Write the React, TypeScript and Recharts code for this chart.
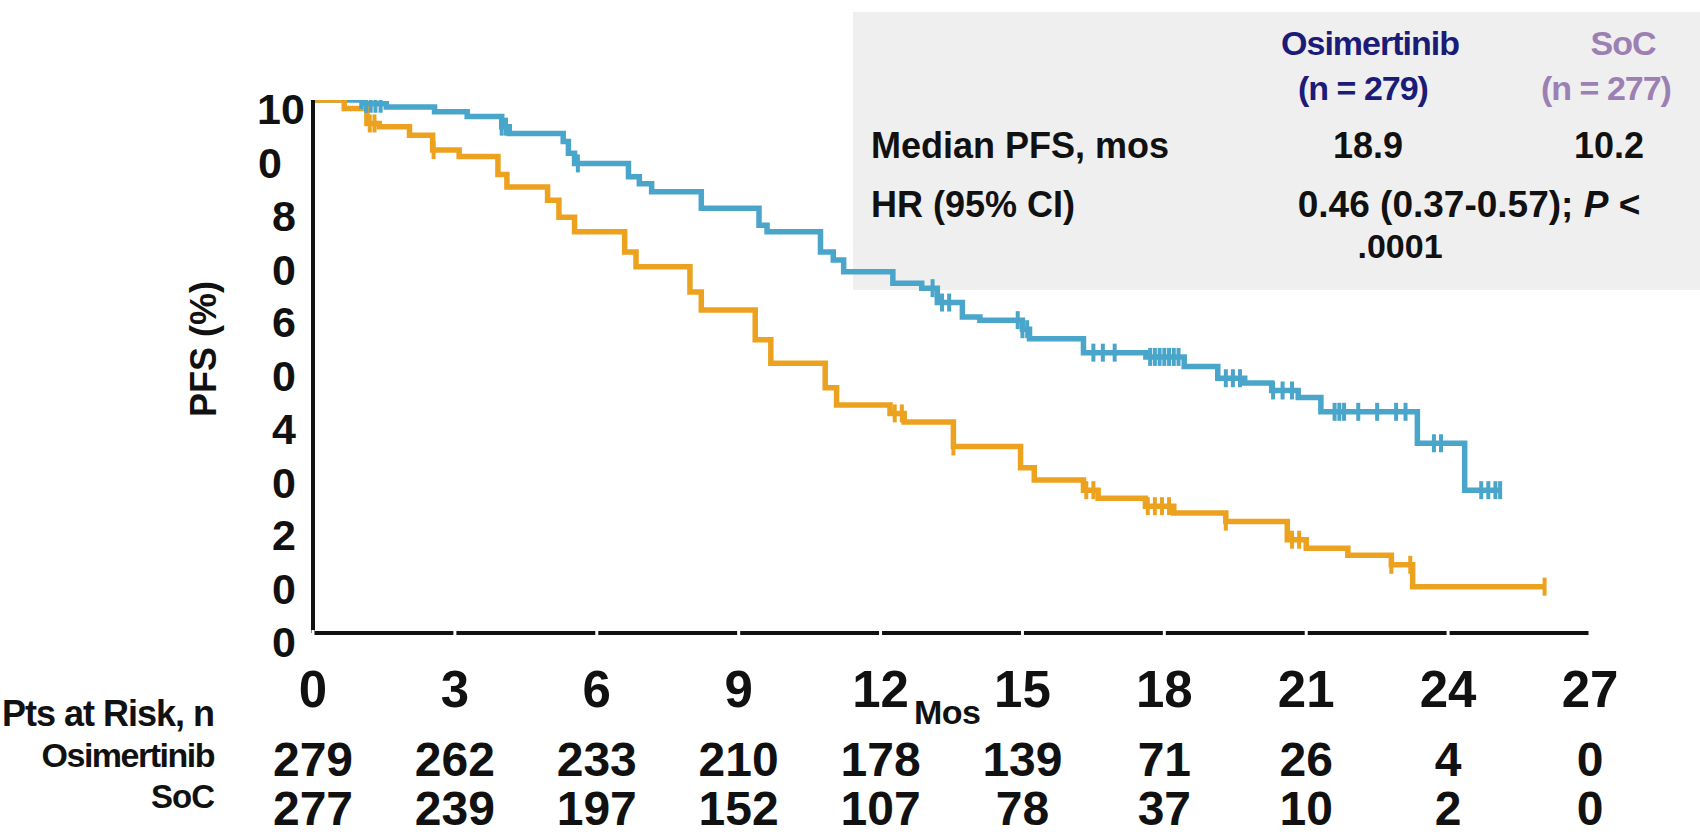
import React from "react";
import { ComposedChart, Line, Scatter, XAxis, YAxis } from "recharts";

// x axis / at-risk table
const monthTicks = [0, 3, 6, 9, 12, 15, 18, 21, 24, 27];
const pfsTicks = [0, 20, 40, 60, 80, 100];
const atRiskOsi = [279, 262, 233, 210, 178, 139, 71, 26, 4, 0];
const atRiskSoc = [277, 239, 197, 152, 107, 78, 37, 10, 2, 0];

// KM steps (months, % PFS)
const osiTimes = [0, 1.1, 1.55, 2.57, 3.26, 3.99, 4.15, 5.29, 5.4, 5.53, 6.67, 6.9, 7.16, 8.21, 9.43, 9.6, 10.73, 11.0, 11.22, 12.26, 12.87, 13.2, 13.73, 14.1, 15.0, 15.15, 16.29, 17.61, 18.42, 19.13, 19.7, 20.27, 20.83, 21.31, 23.35, 24.35, 25.1];
const osiSurv = [100, 99.3, 98.7, 97.8, 96.9, 95.0, 93.7, 92.2, 90.0, 88.1, 85.6, 84.3, 82.8, 79.7, 76.5, 75.3, 71.5, 70.0, 67.8, 65.6, 64.7, 62.0, 59.3, 58.7, 57.0, 55.2, 52.6, 51.8, 50.0, 47.8, 46.9, 45.5, 44.2, 41.5, 35.6, 26.8, 26.8];
const socTimes = [0, 0.66, 1.14, 1.4, 2.04, 2.53, 3.09, 3.91, 4.1, 4.96, 5.2, 5.53, 6.59, 6.83, 7.97, 8.21, 9.35, 9.68, 10.83, 11.07, 12.2, 12.5, 13.54, 14.96, 15.25, 16.29, 16.6, 17.6, 18.2, 19.3, 20.6, 21.0, 21.88, 22.8, 23.25, 26.04];
const socSurv = [100, 98.4, 95.6, 95.0, 93.4, 90.6, 89.4, 86.0, 83.7, 81.2, 78.0, 75.3, 71.5, 68.7, 64.0, 60.6, 55.0, 50.6, 46.0, 42.8, 41.2, 39.6, 35.0, 31.0, 28.7, 26.8, 25.3, 23.8, 22.5, 20.9, 17.5, 15.9, 14.6, 12.8, 8.7, 8.7];

// censoring times (months)
const osiCensor = [1.02, 1.12, 1.22, 1.32, 1.43, 3.99, 4.08, 5.6, 13.1, 13.3, 13.45, 14.9, 15.0, 15.1, 16.5, 16.7, 16.95, 17.7, 17.8, 17.9, 18.0, 18.1, 18.2, 18.3, 19.3, 19.45, 19.6, 20.3, 20.5, 20.7, 21.6, 21.7, 21.8, 22.1, 22.5, 22.9, 23.1, 23.7, 23.85, 24.7, 24.85, 25.0, 25.1];
const socCensor = [1.2, 1.3, 2.55, 12.3, 12.45, 13.54, 16.35, 16.5, 17.65, 17.8, 17.95, 18.1, 19.3, 20.7, 20.85, 22.8, 23.2, 26.04];

const BLUE = "#4aa5ca";
const ORANGE = "#eca21f";
const INK = "#111";
const FONT = "'Liberation Sans', Arial, Helvetica, sans-serif";

const PLOT_TOP = 100;
const PLOT_BOTTOM = 633;
const PLOT_LEFT = 313;
const PLOT_RIGHT = 1590;

const toSteps = (t: number[], s: number[]) => t.map((m, i) => ({ t: m, s: s[i] }));
const survAt = (t: number[], s: number[], m: number) => {
  let v = s[0];
  t.forEach((x, i) => {
    if (x <= m) v = s[i];
  });
  return v;
};
const toCensor = (c: number[], t: number[], s: number[]) => c.map((m) => ({ t: m, s: survAt(t, s, m) }));

const osiData = toSteps(osiTimes, osiSurv);
const socData = toSteps(socTimes, socSurv);
const osiMarks = toCensor(osiCensor, osiTimes, osiSurv);
const socMarks = toCensor(socCensor, socTimes, socSurv);

const censorShape = (color: string) => (p: any) => (
  <line x1={p.cx} x2={p.cx} y1={p.cy - 9} y2={p.cy + 9} stroke={color} strokeWidth={4} />
);

const txt = { fontFamily: FONT, fontWeight: 700, fill: INK } as const;

// the original labels "100", "80"... are wrapped onto two lines
function YTick(props: any) {
  const v = props.payload.value;
  const y = props.y;
  if (v === 0) {
    return (
      <text x={284} y={y + 24} textAnchor="middle" fontSize={43} {...txt}>
        0
      </text>
    );
  }
  const top = v === 100;
  return (
    <g>
      <text x={top ? 281 : 284} y={y + 24} textAnchor="middle" fontSize={43} {...txt}>
        {String(v / 10)}
      </text>
      <text x={top ? 270 : 284} y={y + 78} textAnchor="middle" fontSize={43} {...txt}>
        0
      </text>
    </g>
  );
}

function XTick(props: any) {
  const x = props.x;
  const i = props.index;
  return (
    <g>
      <rect x={x - 1.5} y={PLOT_BOTTOM - 3} width={3} height={6} fill="#fff" />
      <text x={x} y={707} textAnchor="middle" fontSize={51} {...txt}>
        {props.payload.value}
      </text>
      <text x={x} y={776} textAnchor="middle" fontSize={48} {...txt}>
        {atRiskOsi[i]}
      </text>
      <text x={x} y={825} textAnchor="middle" fontSize={48} {...txt}>
        {atRiskSoc[i]}
      </text>
    </g>
  );
}

function XLabels() {
  return (
    <g>
      <text x={914} y={724} fontSize={34} letterSpacing={-0.5} {...txt}>
        Mos
      </text>
      <text x={214} y={726} textAnchor="end" fontSize={36} letterSpacing={-1} {...txt}>
        Pts at Risk, n
      </text>
      <text x={214} y={767} textAnchor="end" fontSize={34} letterSpacing={-1.5} {...txt}>
        Osimertinib
      </text>
      <text x={214} y={808} textAnchor="end" fontSize={33} letterSpacing={-1} {...txt}>
        SoC
      </text>
    </g>
  );
}

function YLabel() {
  return (
    <text x={0} y={0} transform="translate(216 349) rotate(-90)" textAnchor="middle" fontSize={36} {...txt}>
      PFS (%)
    </text>
  );
}

function StatsBox() {
  const b = { fontFamily: FONT, fontWeight: 700 } as const;
  const purple = "#9c80b4";
  const navy = "#1b1b78";
  return (
    <svg width={1700} height={837} style={{ position: "absolute", left: 0, top: 0 }}>
      <rect x={853} y={12} width={847} height={278} fill="#efefef" />
      <text x={1370} y={55} textAnchor="middle" fontSize={34} fill={navy} letterSpacing={-1} {...b}>
        Osimertinib
      </text>
      <text x={1363} y={100} textAnchor="middle" fontSize={34} fill={navy} letterSpacing={-1} {...b}>
        (n = 279)
      </text>
      <text x={1623} y={55} textAnchor="middle" fontSize={34} fill={purple} letterSpacing={-1} {...b}>
        SoC
      </text>
      <text x={1606} y={100} textAnchor="middle" fontSize={34} fill={purple} letterSpacing={-1} {...b}>
        (n = 277)
      </text>
      <text x={871} y={158} fontSize={36} fill={INK} {...b}>
        Median PFS, mos
      </text>
      <text x={1368} y={158} textAnchor="middle" fontSize={36} fill={INK} {...b}>
        18.9
      </text>
      <text x={1609} y={158} textAnchor="middle" fontSize={36} fill={INK} {...b}>
        10.2
      </text>
      <text x={871} y={217} fontSize={36} fill={INK} {...b}>
        HR (95% CI)
      </text>
      <text x={1469} y={217} textAnchor="middle" fontSize={37} fill={INK} {...b}>
        0.46 (0.37-0.57); <tspan fontStyle="italic">P</tspan> {"<"}
      </text>
      <text x={1400} y={258} textAnchor="middle" fontSize={34} fill={INK} {...b}>
        .0001
      </text>
    </svg>
  );
}

export default function App() {
  return (
    <div style={{ position: "absolute", left: 0, top: 0, width: 1700, height: 837, background: "#fff" }}>
      <StatsBox />
      <div style={{ position: "absolute", left: 0, top: 0 }}>
        <ComposedChart
          width={1700}
          height={837}
          margin={{ top: PLOT_TOP, right: 1700 - PLOT_RIGHT, left: PLOT_LEFT - 100, bottom: 837 - PLOT_BOTTOM - 50 }}
        >
          <XAxis
            type="number"
            dataKey="t"
            domain={[0, 27]}
            ticks={monthTicks}
            interval={0}
            allowDataOverflow
            height={50}
            tickLine={false}
            axisLine={{ stroke: INK, strokeWidth: 4 }}
            tick={<XTick />}
            label={{ content: () => <XLabels /> }}
          />
          <YAxis
            type="number"
            domain={[0, 100]}
            ticks={pfsTicks}
            interval={0}
            allowDataOverflow
            width={100}
            tickLine={false}
            axisLine={{ stroke: INK, strokeWidth: 4 }}
            tick={<YTick />}
            label={{ content: () => <YLabel /> }}
          />
          <Line data={osiData} dataKey="s" type="stepAfter" stroke={BLUE} strokeWidth={5.5} dot={false} isAnimationActive={false} />
          <Line data={socData} dataKey="s" type="stepAfter" stroke={ORANGE} strokeWidth={5.5} dot={false} isAnimationActive={false} />
          <Scatter data={osiMarks} dataKey="s" shape={censorShape(BLUE)} isAnimationActive={false} />
          <Scatter data={socMarks} dataKey="s" shape={censorShape(ORANGE)} isAnimationActive={false} />
        </ComposedChart>
      </div>
    </div>
  );
}
